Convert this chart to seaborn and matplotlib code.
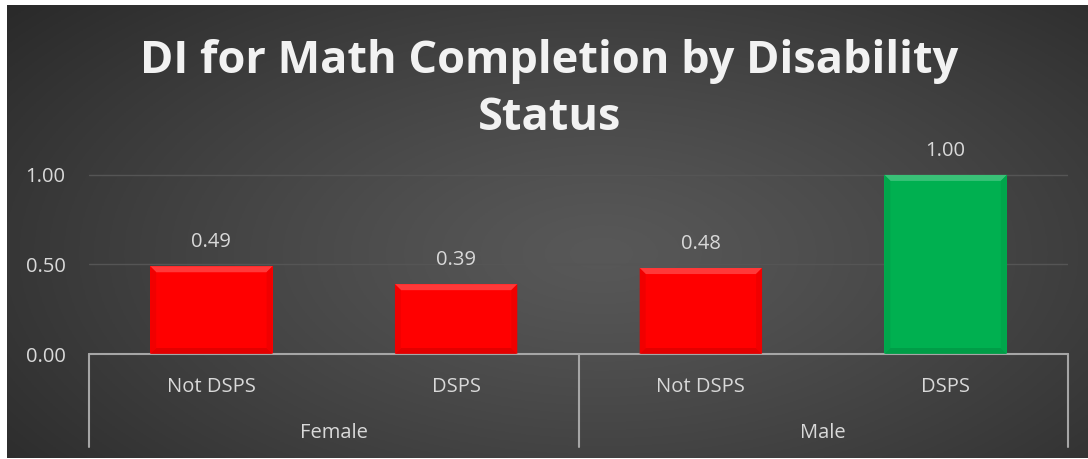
import numpy as np
import pandas as pd
import matplotlib
matplotlib.use("Agg")
import matplotlib.pyplot as plt
from matplotlib.patches import Polygon
from matplotlib.transforms import IdentityTransform
import seaborn as sns

# ---- data ----
groups = ["Female", "Female", "Male", "Male"]
statuses = ["Not DSPS", "DSPS", "Not DSPS", "DSPS"]
values = [0.49, 0.39, 0.48, 1.00]
bar_colors = ["#FF0000", "#FF0000", "#FF0000", "#00B050"]
yticks = [0.0, 0.5, 1.0]
title = "DI for Math Completion by Disability\nStatus"

sns.set_theme(style="dark")
plt.rcParams["font.family"] = ["Open Sans", "DejaVu Sans"]

W, H = 1088, 459
fig = plt.figure(figsize=(W / 100, H / 100), dpi=100, facecolor="white")

# background radial gradient
bg = fig.add_axes([7 / W, 1 / H, (W - 7) / W, (H - 6) / H])
gx, gy = np.meshgrid(np.linspace(0, 1, 400), np.linspace(0, 1, 200))
r = np.sqrt(((gx - 0.55) / 0.75) ** 2 + ((gy - 0.55) / 0.9) ** 2)
r = np.clip(r, 0, 1)
lo, hi = 0x27 / 255, 0x58 / 255
val = hi - (hi - lo) * r ** 1.2
img = np.dstack([val, val, val])
bg.imshow(img, aspect="auto", extent=[0, 1, 0, 1], origin="upper")
bg.set_axis_off()

ax = fig.add_axes([89 / W, 105 / H, 979 / W, 197 / H])
ax.patch.set_alpha(0)

keys = [f"{g}|{s}" for g, s in zip(groups, statuses)]
df = pd.DataFrame({"key": keys, "group": groups, "status": statuses, "value": values})
sns.barplot(data=df, x="key", y="value", hue="key", palette=bar_colors,
            legend=False, width=0.5, ax=ax, saturation=1, edgecolor="none")

fs = 14.5
ax.set_ylim(0, 1.1)
ax.set_xlim(-0.5, len(values) - 0.5)
ax.set_yticks(yticks)
ax.set_yticklabels([f"{t:.2f}" for t in yticks], color="#d9d9d9", fontsize=fs)
ax.tick_params(axis="y", length=0, pad=17)
ax.set_xticks([])
ax.set_xlabel("")
ax.set_ylabel("")
for s in ax.spines.values():
    s.set_visible(False)
for t in yticks[1:]:
    ax.axhline(t, color="#555555", lw=1, zorder=0)
ax.grid(False)

# data labels
for i, v in enumerate(values):
    ax.annotate(f"{v:.2f}", (i, v), xytext=(0, 10), textcoords="offset points",
                ha="center", va="bottom", color="#d9d9d9", fontsize=fs)

# hierarchical x axis
line_c = "#a6a6a6"
trans = ax.get_xaxis_transform()
ax.plot([-0.5, len(values) - 0.5], [0, 0], color=line_c, lw=1.5, transform=trans, clip_on=False)
uniq_groups = list(dict.fromkeys(groups))
bounds = [-0.5]
for g in uniq_groups:
    idx = [i for i, gg in enumerate(groups) if gg == g]
    bounds.append(max(idx) + 0.5)
    ax.text(np.mean(idx), -0.40, g, transform=trans, ha="center", va="center",
            color="#d9d9d9", fontsize=fs)
for b in bounds:
    ax.plot([b, b], [0, -0.47], color=line_c, lw=1.5, transform=trans, clip_on=False)
for i, s in enumerate(statuses):
    ax.text(i, -0.165, s, transform=trans, ha="center", va="center",
            color="#d9d9d9", fontsize=fs)

fig.text(0.505, 0.804, title, ha="center", va="center", color="#f2f2f2",
         fontsize=32.5, fontweight="bold", linespacing=1.33)

# bevel effect on bars
fig.canvas.draw()
b = 6
for p, c in zip(ax.patches, bar_colors):
    (x0, y0), (x1, y1) = ax.transData.transform([(p.get_x(), p.get_y()),
                                                  (p.get_x() + p.get_width(), p.get_y() + p.get_height())])
    rgb = np.array(matplotlib.colors.to_rgb(c))
    light = 1 - (1 - rgb) * 0.75
    dark = rgb * 0.88
    side = rgb * 0.94
    polys = [
        ([(x0, y1), (x1, y1), (x1 - b, y1 - b), (x0 + b, y1 - b)], light),
        ([(x0, y0), (x1, y0), (x1 - b, y0 + b), (x0 + b, y0 + b)], dark),
        ([(x0, y0), (x0, y1), (x0 + b, y1 - b), (x0 + b, y0 + b)], side),
        ([(x1, y0), (x1, y1), (x1 - b, y1 - b), (x1 - b, y0 + b)], side),
    ]
    for pts, col in polys:
        fig.add_artist(Polygon(pts, closed=True, facecolor=col, edgecolor="none",
                               transform=IdentityTransform(), alpha=0.9, zorder=5))

fig.savefig("out.png", dpi=100, facecolor="white")
